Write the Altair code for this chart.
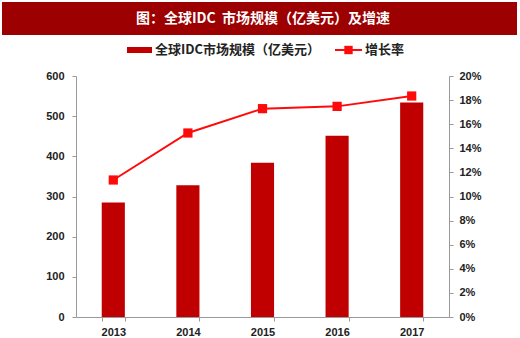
import altair as alt
import pandas as pd

years = ["2013", "2014", "2015", "2016", "2017"]
market = [285, 328, 384, 451, 534]
growth = [0.1137, 0.1527, 0.1729, 0.1748, 0.1834]

title_text = "图：全球IDC\u00a0\u00a0市场规模（亿美元）及增速"
bar_label = "全球IDC市场规模（亿美元）"
line_label = "增长率"

df = pd.DataFrame({"year": years, "market": market, "growth": growth})

FONT = "Noto Sans CJK SC"
BAR_C = "#c00000"
LINE_C = "#ff0a0a"
BANNER_C = "#9c0000"

W, H = 373, 241
PL, PT = 76, 76

base = alt.Chart(df)
xenc = alt.X("year:N", title=None,
             scale=alt.Scale(paddingInner=0.69, paddingOuter=0.345),
             axis=alt.Axis(labelAngle=0, labelFont="Liberation Sans", labelFontWeight="bold",
                           labelFontSize=11, labelColor="#222", domainColor="#999",
                           tickColor="#999", tickBand="extent", tickSize=4, labelPadding=5))

bars = base.mark_bar(color=BAR_C).encode(
    x=xenc,
    y=alt.Y("market:Q", title=None,
            scale=alt.Scale(domain=[0, 600]),
            axis=alt.Axis(values=[0, 100, 200, 300, 400, 500, 600], grid=False,
                          labelFont="Liberation Sans", labelFontWeight="bold", labelFontSize=11,
                          labelColor="#222", domainColor="#999", tickColor="#999",
                          tickSize=4, labelPadding=8)),
)

line = base.mark_line(color=LINE_C, strokeWidth=2,
                      point=alt.OverlayMarkDef(shape="square", size=85, filled=True,
                                               color=LINE_C, opacity=1)).encode(
    x=xenc,
    y=alt.Y("growth:Q", title=None,
            scale=alt.Scale(domain=[0, 0.2]),
            axis=alt.Axis(orient="right", format=".0%",
                          values=[0, 0.02, 0.04, 0.06, 0.08, 0.1, 0.12, 0.14, 0.16, 0.18, 0.2],
                          grid=False, labelFont="Liberation Sans", labelFontWeight="bold",
                          labelFontSize=11, labelColor="#222", domainColor="#999",
                          tickColor="#999", tickSize=4, labelPadding=6)),
)

one = alt.Data(values=[{"k": 1}])

banner = alt.Chart(one).mark_rect(color=BANNER_C).encode(
    x=alt.value(-PL + 2), x2=alt.value(520 - PL - 3),
    y=alt.value(-PT + 2), y2=alt.value(-PT + 35),
)
banner_txt = alt.Chart(one).mark_text(text=title_text, color="white", font=FONT,
                                      fontWeight="bold", fontSize=14,
                                      baseline="middle", align="center").encode(
    x=alt.value(263 - PL), y=alt.value(-PT + 19),
)

leg_rect = alt.Chart(one).mark_rect(color=BAR_C).encode(
    x=alt.value(127 - PL), x2=alt.value(152 - PL),
    y=alt.value(47 - PT), y2=alt.value(53 - PT),
)
leg_txt1 = alt.Chart(one).mark_text(text=bar_label, color="#222", font=FONT,
                                    fontWeight="bold", fontSize=13, align="left",
                                    baseline="middle").encode(
    x=alt.value(155 - PL), y=alt.value(50 - PT),
)
leg_rule = alt.Chart(one).mark_rule(color=LINE_C, strokeWidth=2).encode(
    x=alt.value(335 - PL), x2=alt.value(362 - PL), y=alt.value(50 - PT),
)
leg_pt = alt.Chart(one).mark_point(shape="square", size=70, filled=True,
                                   color=LINE_C, opacity=1).encode(
    x=alt.value(348.5 - PL), y=alt.value(50 - PT),
)
leg_txt2 = alt.Chart(one).mark_text(text=line_label, color="#222", font=FONT,
                                    fontWeight="bold", fontSize=13, align="left",
                                    baseline="middle").encode(
    x=alt.value(365 - PL), y=alt.value(50 - PT),
)

main = alt.layer(bars, line).resolve_scale(y="independent")

chart = alt.layer(main, banner, banner_txt, leg_rect, leg_txt1, leg_rule, leg_pt, leg_txt2).properties(
    width=W, height=H,
    autosize=alt.AutoSizeParams(type="none"),
    padding={"left": PL, "top": PT, "right": 520 - PL - W, "bottom": 338 - PT - H},
    background="white",
).configure_view(stroke=None)

chart.save("out.html", embed_options={"renderer": "svg", "actions": False})
